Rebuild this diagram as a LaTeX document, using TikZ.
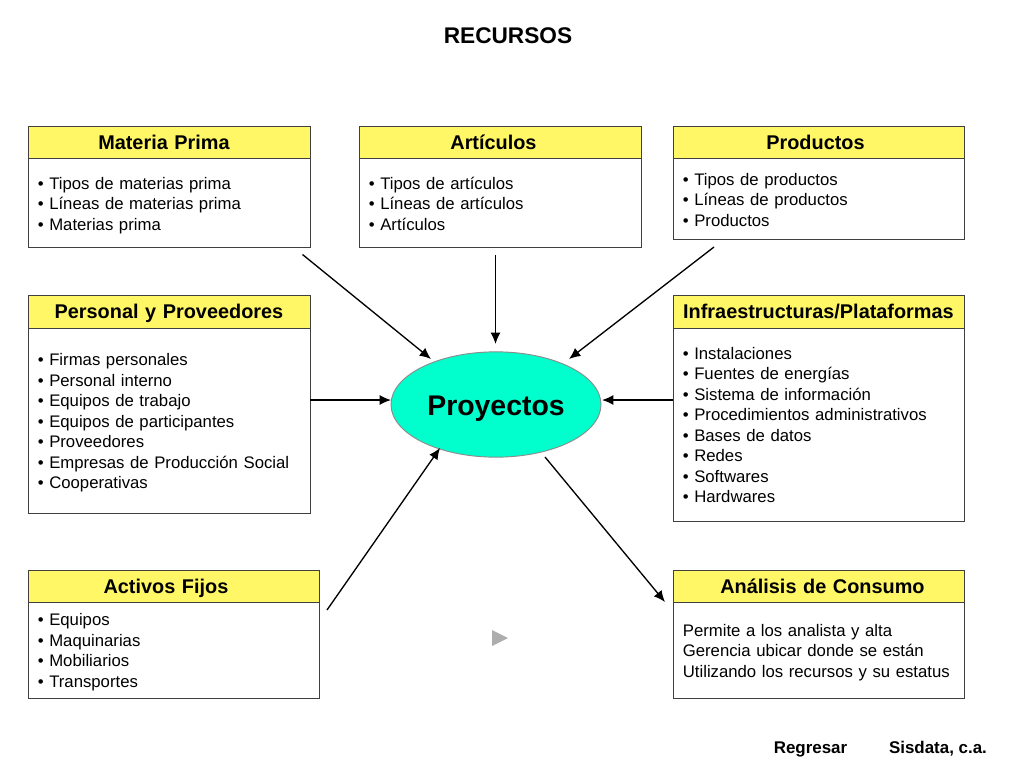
\documentclass[tikz,border=0pt]{standalone}
\usepackage{fontspec}
\setmainfont{Liberation Sans}
\usetikzlibrary{shapes.geometric,arrows.meta}

\begin{document}
\begin{tikzpicture}[x=0.75pt, y=-0.75pt,
    headbox/.style={draw=black!75, line width=0.7pt, fill=yellow!60, anchor=north west, inner sep=0pt, text height=12.3pt, text depth=1.7pt, font=\fontsize{14.9}{18}\selectfont\bfseries, align=center},
    bodybox/.style={draw=black!75, line width=0.7pt, fill=white, anchor=north west, inner xsep=7.4pt, inner ysep=0pt, font=\fontsize{12.55}{15.4}\selectfont, align=left, execute at begin node={\rule{0pt}{14.6pt}}, execute at end node=\strut},
    colA/.style={minimum width=211.5pt, text width=196.7pt},
    colB/.style={minimum width=218.25pt, text width=203.45pt},
    flecha/.style={-{Latex[length=8.5pt,width=7.5pt]}, line width=1pt}]

    \useasboundingbox (0,0) rectangle (1024,768);

    %titulo
    \node (titulo) at (508,36) {\fontsize{17}{20}\selectfont\bfseries RECURSOS};

    %fila superior
    \node (materiahead) [headbox, colA, minimum height=24.75pt] at (27.5,125.5) {\hspace*{-7.5pt}Materia Prima};
    \node (materia) [bodybox, colA, minimum height=66.75pt] at (27.5,158) {• Tipos de materias prima\\• Líneas de materias prima\\• Materias prima};
    \node (articuloshead) [headbox, colA, minimum height=24.75pt] at (358.5,125.5) {\hspace*{-9.75pt}Artículos};
    \node (articulos) [bodybox, colA, minimum height=66.75pt] at (358.5,158) {• Tipos de artículos\\• Líneas de artículos\\• Artículos};
    \node (productoshead) [headbox, colB, minimum height=24.75pt] at (672.5,125.5) {\hspace*{-4.5pt}Productos};
    \node (productos) [bodybox, colB, minimum height=60.75pt] at (672.5,158) {• Tipos de productos\\• Líneas de productos\\• Productos};

    %fila central
    \node (personalhead) [headbox, colA, minimum height=24.75pt] at (27.5,294.5) {Personal y Proveedores};
    \node (personal) [bodybox, colA, minimum height=138.75pt] at (27.5,327.5) {• Firmas personales\\• Personal interno\\• Equipos de trabajo\\• Equipos de participantes\\• Proveedores\\• Empresas de Producción Social\\• Cooperativas};
    \node (infrahead) [headbox, colB, minimum height=24.75pt] at (672.5,294.5) {Infraestructuras/Plataformas};
    \node (infra) [bodybox, colB, minimum height=144.75pt] at (672.5,327.5) {• Instalaciones\\• Fuentes de energías\\• Sistema de información\\• Procedimientos administrativos\\• Bases de datos\\• Redes\\• Softwares\\• Hardwares};

    %fila inferior
    \node (activoshead) [headbox, colB, minimum height=24.75pt] at (27.5,569.5) {\hspace*{-11.25pt}Activos Fijos};
    \node (activos) [bodybox, colB, minimum height=72pt] at (27.5,601.5) {• Equipos\\• Maquinarias\\• Mobiliarios\\• Transportes};
    \node (analisishead) [headbox, colB, minimum height=24.75pt] at (672.5,569.5) {\hspace*{6pt}Análisis de Consumo};
    \node (analisis) [bodybox, colB, minimum height=72pt] at (672.5,601.5) {Permite a los analista y alta\\Gerencia ubicar donde se están\\Utilizando los recursos y su estatus};

    %centro
    \node (proyectos) [ellipse, draw=black!45, line width=0.7pt, fill={rgb,255:red,0;green,255;blue,204}, minimum width=157.5pt, minimum height=79pt, inner sep=0pt, text height=17pt, text depth=0pt, font=\fontsize{21.3}{25}\selectfont\bfseries] at (496,404.5) {Proyectos};

    %extremos libres
    \coordinate (a1) at (302.5,254.5);
    \coordinate (a2) at (495.5,255);
    \coordinate (a3) at (714,247);
    \coordinate (a4) at (495.5,344);
    \coordinate (a5) at (327,610);
    \coordinate (a6) at (665,602);
    \coordinate (a7) at (310,400);
    \coordinate (a8) at (673,400);
    \coordinate (a9) at (391,400);
    \coordinate (a10) at (602,400);
    \coordinate (a11) at (431,359);
    \coordinate (a12) at (569,359);
    \coordinate (a13) at (440,448);
    \coordinate (a14) at (545,457);

    %flechas
    \draw[flecha] (a1) -- (a11);
    \draw[flecha] (a2) -- (a4);
    \draw[flecha] (a3) -- (a12);
    \draw[flecha] (a7) -- (a9);
    \draw[flecha] (a8) -- (a10);
    \draw[flecha] (a5) -- (a13);
    \draw[flecha] (a14) -- (a6);

    %triangulo
    \fill[black!32] (492,630) -- (508,638) -- (492,646) -- cycle;

    %pie
    \node (regresar) at (810.5,749) {\fontsize{12.7}{15}\selectfont\bfseries Regresar};
    \node (sisdata) at (938,749) {\fontsize{12.7}{15}\selectfont\bfseries Sisdata, c.a.};

\end{tikzpicture}
\end{document}
